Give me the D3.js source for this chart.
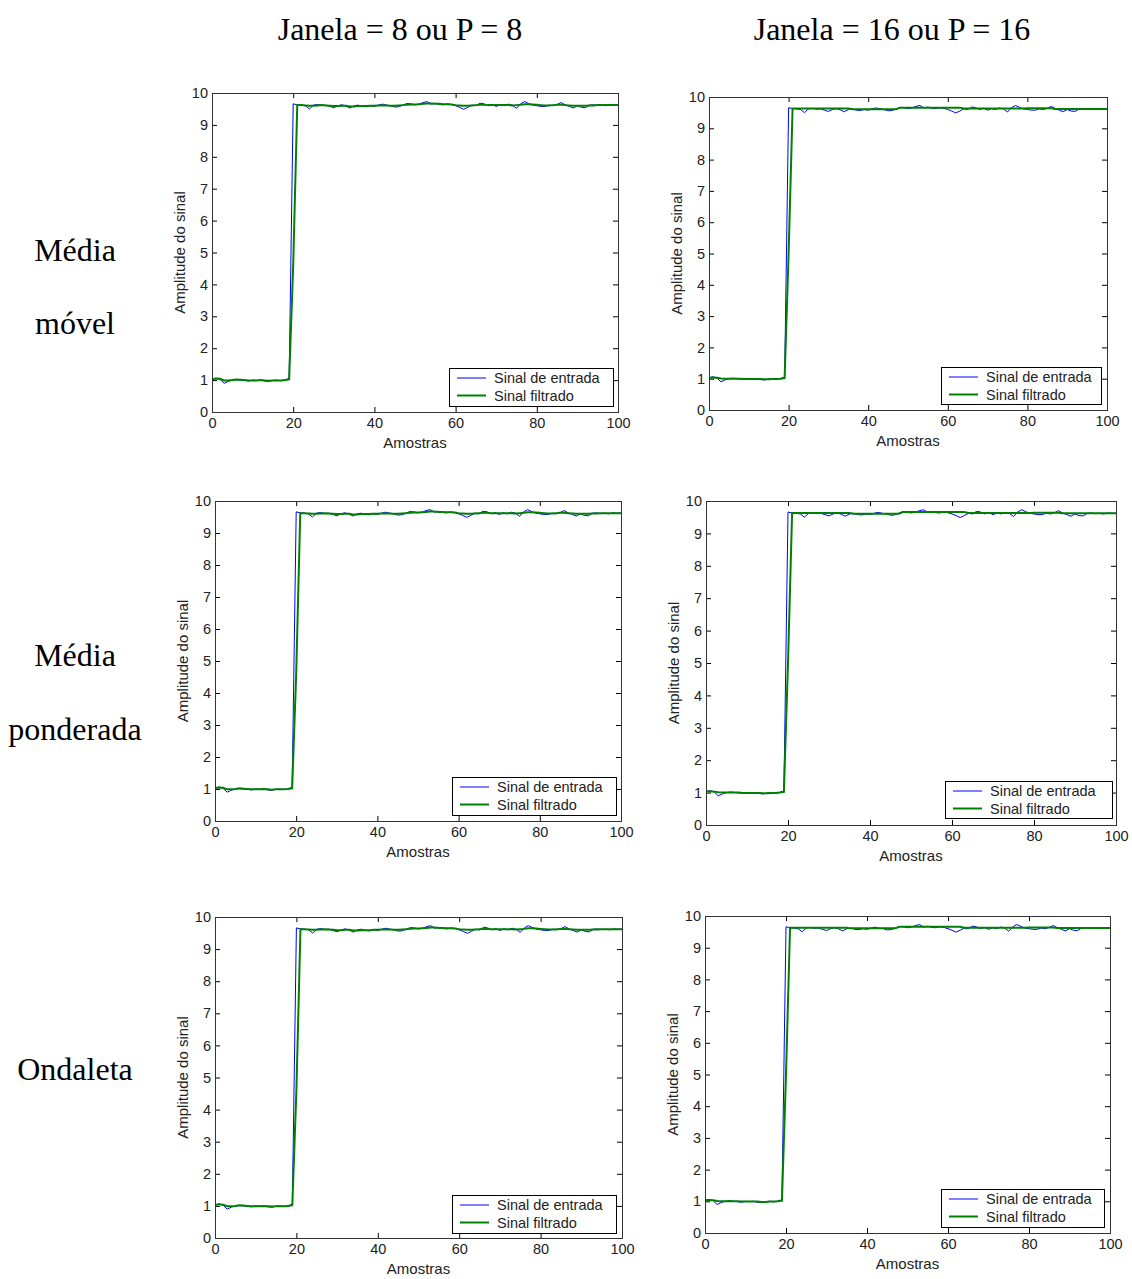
<!DOCTYPE html>
<html>
<head>
<meta charset="utf-8">
<script src="https://cdn.jsdelivr.net/npm/d3@7"></script>
<style>
  html, body { margin: 0; padding: 0; background: #fff; }
  svg { display: block; }
</style>
</head>
<body>
<svg id="chart" width="1132" height="1279"></svg>
<script>
// ---------------- DATA ----------------
const columnTitles = ["Janela = 8 ou P = 8", "Janela = 16 ou P = 16"];
const rowTitles = [["Média", "móvel"], ["Média", "ponderada"], ["Ondaleta"]];
const legendLabels = ["Sinal de entrada", "Sinal filtrado"];
const xLabel = "Amostras";
const yLabel = "Amplitude do sinal";
const xTickValues = [0, 20, 40, 60, 80, 100];
const yTickValues = [0, 1, 2, 3, 4, 5, 6, 7, 8, 9, 10];

// input signal, samples 0..100
const inputSignal = [
  1.03, 1.06, 1.02, 0.90, 0.96, 1.00, 1.01, 1.00, 0.99, 0.97,
  1.00, 0.99, 1.00, 0.97, 0.96, 0.99, 1.00, 0.98, 1.01, 1.05,
  9.66, 9.63, 9.62, 9.60, 9.50, 9.62, 9.64, 9.61, 9.62, 9.58,
  9.54, 9.60, 9.63, 9.59, 9.53, 9.60, 9.62, 9.58, 9.57, 9.60,
  9.58, 9.62, 9.65, 9.62, 9.60, 9.56, 9.57, 9.62, 9.67, 9.66,
  9.63, 9.65, 9.70, 9.73, 9.65, 9.68, 9.64, 9.63, 9.66, 9.64,
  9.60, 9.55, 9.49, 9.55, 9.62, 9.60, 9.68, 9.66, 9.60, 9.64,
  9.58, 9.63, 9.60, 9.65, 9.62, 9.52, 9.66, 9.73, 9.67, 9.62,
  9.60, 9.58, 9.58, 9.62, 9.60, 9.64, 9.70, 9.63, 9.58, 9.53,
  9.60, 9.55, 9.54, 9.62, 9.63, 9.61, 9.62, 9.60, 9.63, 9.62,
  9.62
];

// filtered signal, window / P = 8
const filtered8 = [
  1.03, 1.05, 1.04, 0.99, 0.99, 1.00, 1.02, 1.01, 1.00, 0.99,
  0.99, 0.99, 1.00, 0.99, 0.98, 0.99, 0.99, 0.99, 1.00, 1.02,
  4.60, 9.62, 9.62, 9.61, 9.60, 9.60, 9.61, 9.62, 9.61, 9.60,
  9.59, 9.59, 9.60, 9.60, 9.58, 9.58, 9.59, 9.59, 9.59, 9.60,
  9.60, 9.61, 9.61, 9.61, 9.60, 9.60, 9.61, 9.62, 9.63, 9.64,
  9.64, 9.65, 9.66, 9.67, 9.67, 9.66, 9.66, 9.65, 9.65, 9.64,
  9.62, 9.61, 9.60, 9.60, 9.61, 9.62, 9.63, 9.63, 9.62, 9.62,
  9.62, 9.62, 9.62, 9.62, 9.61, 9.62, 9.63, 9.65, 9.65, 9.64,
  9.63, 9.62, 9.61, 9.61, 9.62, 9.63, 9.63, 9.62, 9.61, 9.60,
  9.60, 9.60, 9.60, 9.61, 9.61, 9.62, 9.62, 9.62, 9.62, 9.62,
  9.62
];

// filtered signal, window / P = 16
const filtered16 = [
  1.03, 1.04, 1.03, 1.01, 1.00, 1.00, 1.01, 1.00, 1.00, 0.99,
  0.99, 0.99, 0.99, 0.99, 0.98, 0.98, 0.99, 0.99, 1.00, 1.02,
  5.00, 9.63, 9.63, 9.63, 9.63, 9.63, 9.63, 9.63, 9.63, 9.63,
  9.63, 9.63, 9.63, 9.63, 9.63, 9.63, 9.61, 9.61, 9.61, 9.61,
  9.61, 9.61, 9.61, 9.61, 9.61, 9.61, 9.61, 9.61, 9.66, 9.66,
  9.66, 9.66, 9.66, 9.66, 9.66, 9.66, 9.66, 9.66, 9.66, 9.66,
  9.66, 9.66, 9.66, 9.66, 9.63, 9.63, 9.63, 9.63, 9.63, 9.63,
  9.63, 9.63, 9.63, 9.63, 9.63, 9.63, 9.63, 9.63, 9.63, 9.63,
  9.64, 9.64, 9.64, 9.64, 9.64, 9.64, 9.64, 9.62, 9.62, 9.62,
  9.62, 9.62, 9.62, 9.62, 9.62, 9.62, 9.62, 9.62, 9.62, 9.62,
  9.62
];

// ---------------- LAYOUT ----------------
// plot boxes: left, right, top, bottom ; legend box: lx, ly, lw, lh
const panels = [
  { row: 0, col: 0, l: 212, r: 618, t: 93,  b: 412,  lx: 449, ly: 368,  lw: 164, lh: 38 },
  { row: 0, col: 1, l: 709, r: 1107, t: 97, b: 410,  lx: 941, ly: 367,  lw: 160, lh: 37 },
  { row: 1, col: 0, l: 215, r: 621, t: 501, b: 821,  lx: 452, ly: 777,  lw: 164, lh: 38 },
  { row: 1, col: 1, l: 706, r: 1116, t: 501, b: 825, lx: 945, ly: 781,  lw: 167, lh: 37 },
  { row: 2, col: 0, l: 215, r: 622, t: 917, b: 1238, lx: 452, ly: 1195, lw: 164, lh: 38 },
  { row: 2, col: 1, l: 705, r: 1110, t: 916, b: 1233, lx: 941, ly: 1189, lw: 163, lh: 38 }
];
const filteredByCol = [filtered8, filtered16];
const colTitleX = [400, 892];
const rowTitleY = [[261, 334], [666, 740], [1080]];

const COLOR_IN = "#0000ff";
const COLOR_FILT = "#008000";
const sans = "'Liberation Sans', Arial, sans-serif";
const serif = "'Liberation Serif', 'Times New Roman', serif";

const svg = d3.select("#chart");

// column titles
svg.selectAll("text.coltitle").data(columnTitles).join("text")
  .attr("class", "coltitle")
  .attr("x", (d, i) => colTitleX[i]).attr("y", 40)
  .attr("text-anchor", "middle")
  .style("font-family", serif).style("font-size", "32px").style("fill", "#000")
  .text(d => d);

// row titles
rowTitles.forEach((lines, r) => {
  lines.forEach((txt, k) => {
    svg.append("text")
      .attr("x", 75).attr("y", rowTitleY[r][k])
      .attr("text-anchor", "middle")
      .style("font-family", serif).style("font-size", "32px").style("fill", "#000")
      .text(txt);
  });
});

function drawPanel(p) {
  const g = svg.append("g");
  const x = d3.scaleLinear().domain([0, 100]).range([p.l, p.r]);
  const y = d3.scaleLinear().domain([0, 10]).range([p.b, p.t]);

  g.append("rect").attr("x", p.l).attr("y", p.t)
    .attr("width", p.r - p.l).attr("height", p.b - p.t)
    .attr("fill", "#fff");

  const axStyle = sel => {
    sel.select(".domain").remove();
    sel.selectAll(".tick line").attr("stroke", "#000").attr("stroke-width", 1);
  };

  g.append("g").attr("transform", `translate(0,${p.b})`)
    .call(d3.axisBottom(x).tickValues(xTickValues).tickSize(-5).tickPadding(6).tickFormat(d3.format("d")))
    .call(axStyle);
  g.append("g").attr("transform", `translate(0,${p.t})`)
    .call(d3.axisTop(x).tickValues(xTickValues).tickSize(-5).tickFormat(""))
    .call(axStyle);
  g.append("g").attr("transform", `translate(${p.l},0)`)
    .call(d3.axisLeft(y).tickValues(yTickValues).tickSize(-5).tickPadding(4).tickFormat(d3.format("d")))
    .call(axStyle);
  g.append("g").attr("transform", `translate(${p.r},0)`)
    .call(d3.axisRight(y).tickValues(yTickValues).tickSize(-5).tickFormat(""))
    .call(axStyle);

  g.selectAll(".tick text").style("font-family", sans).style("font-size", "14.5px").style("fill", "#222");

  const line = d3.line().x((d, i) => x(i)).y(d => y(d));

  g.append("path").datum(inputSignal)
    .attr("d", line).attr("fill", "none")
    .attr("stroke", COLOR_IN).attr("stroke-width", 1);
  g.append("path").datum(filteredByCol[p.col])
    .attr("d", line).attr("fill", "none")
    .attr("stroke", COLOR_FILT).attr("stroke-width", 2);

  g.append("rect").attr("x", p.l + 0.5).attr("y", p.t + 0.5)
    .attr("width", p.r - p.l).attr("height", p.b - p.t)
    .attr("fill", "none").attr("stroke", "#333").attr("stroke-width", 1);

  g.append("text")
    .attr("x", (p.l + p.r) / 2).attr("y", p.b + 36)
    .attr("text-anchor", "middle")
    .style("font-family", sans).style("font-size", "15px").style("fill", "#222")
    .text(xLabel);
  g.append("text")
    .attr("transform", `translate(${p.l - 27},${(p.t + p.b) / 2}) rotate(-90)`)
    .attr("text-anchor", "middle")
    .style("font-family", sans).style("font-size", "15px").style("fill", "#222")
    .text(yLabel);

  const lg = g.append("g").attr("transform", `translate(${p.lx},${p.ly})`);
  lg.append("rect").attr("x", 0.5).attr("y", 0.5).attr("width", p.lw).attr("height", p.lh)
    .attr("fill", "#fff").attr("stroke", "#000").attr("stroke-width", 1);
  const colors = [COLOR_IN, COLOR_FILT];
  const widths = [1, 2];
  legendLabels.forEach((lab, i) => {
    const cy = 10 + i * 17.5;
    lg.append("line").attr("x1", 8).attr("x2", 37).attr("y1", cy).attr("y2", cy)
      .attr("stroke", colors[i]).attr("stroke-width", widths[i]);
    lg.append("text").attr("x", 45).attr("y", cy + 5)
      .style("font-family", sans).style("font-size", "14.5px").style("fill", "#222")
      .text(lab);
  });
}

panels.forEach(drawPanel);
</script>
</body>
</html>
